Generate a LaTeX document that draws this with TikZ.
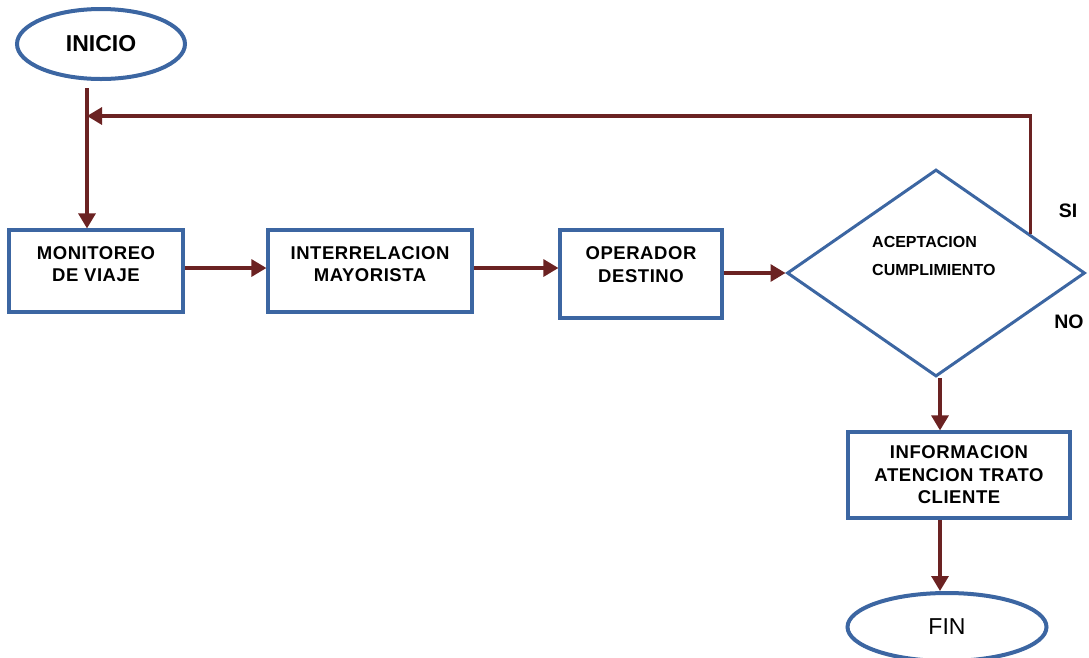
\documentclass[tikz,border=0pt]{standalone}
\usepackage{fontspec}
\setmainfont{Liberation Sans}
\newfontfamily\spacedbold[LetterSpace=3]{Liberation Sans Bold}
\usetikzlibrary{shapes.geometric,arrows.meta,calc}
\definecolor{edgeblue}{HTML}{3C66A2}
\definecolor{flowred}{HTML}{6B2222}
\begin{document}
\begin{tikzpicture}[x=1pt,y=-1pt,
  stepbox/.style={draw=edgeblue,line width=3.2pt,fill=white,inner sep=0pt},
  terminal/.style={ellipse,draw=edgeblue,line width=4pt,inner sep=0pt,font=\fontsize{23}{26}\selectfont},
  decision/.style={diamond,draw=edgeblue,line width=3pt,inner sep=0pt},
  boxtext/.style={align=center,font=\spacedbold\fontsize{18.5}{22.5}\selectfont},
  flow/.style={draw=flowred,line width=3.2pt},
  arr/.style={flow,-{Triangle[length=15pt,width=17pt]}},
  answer/.style={font=\bfseries\fontsize{19.5}{22}\selectfont}]
\path[use as bounding box] (0,0) rectangle (1089,657);

% terminals
\node[terminal,minimum width=168pt,minimum height=70pt] (ini) at (101,44) {\bfseries INICIO};
\node[terminal,minimum width=199pt,minimum height=68pt] (fin) at (947,627) {FIN};

% process boxes
\node[stepbox,minimum width=174pt,minimum height=82pt,
  label={[boxtext,yshift=7pt]center:MONITOREO\\DE VIAJE}] (mon) at (96,271) {};
\node[stepbox,minimum width=204pt,minimum height=82pt,
  label={[boxtext,yshift=7pt]center:INTERRELACION\\MAYORISTA}] (inter) at (370,271) {};
\node[stepbox,minimum width=162pt,minimum height=88pt,
  label={[boxtext,yshift=9.5pt]center:OPERADOR\\DESTINO}] (oper) at (641,274) {};
\node[stepbox,minimum width=222pt,minimum height=86pt,
  label={[boxtext]center:INFORMACION\\ATENCION TRATO\\CLIENTE}] (info) at (959,475) {};

% decision
\node[decision,minimum width=298pt,minimum height=207pt] (dia) at (936,273) {};
\node[anchor=west,align=left,inner sep=0pt,font=\bfseries\fontsize{16}{28}\selectfont]
  (diatext) at (872,256) {ACEPTACION\\CUMPLIMIENTO};
\node[answer] (si) at (1068,211) {SI};
\node[answer] (no) at (1069,322) {NO};

% connectors
\coordinate (join) at (87,116);
\coordinate (exit) at ($(dia.north)!0.628!(dia.east)$);
\draw[arr,shorten <=7pt] (join |- ini.south) -- (join |- mon.north);
\draw[arr] ([yshift=3pt]mon.east) -- ([yshift=3pt]inter.west);
\draw[arr] ([yshift=3pt]inter.east) -- ([yshift=3pt]inter.east -| oper.west);
\draw[arr] (dia.west -| oper.east) -- (dia.west);
\draw[arr] (exit) |- (join);
\draw[arr] ([xshift=4pt]dia.south) -- ([xshift=4pt]dia.south |- info.north);
\draw[arr] ([xshift=4pt]dia.south |- info.south) -- ([xshift=4pt]dia.south |- fin.north);
\end{tikzpicture}
\end{document}
